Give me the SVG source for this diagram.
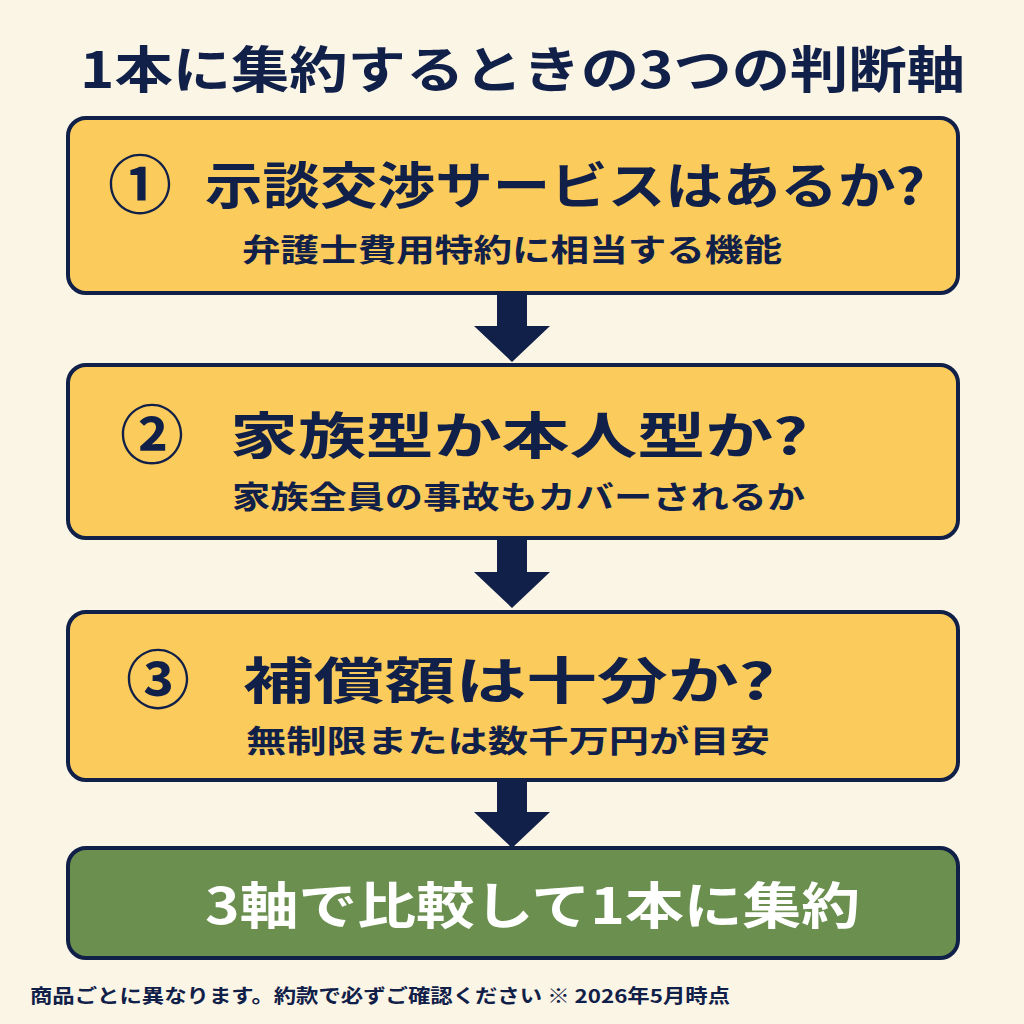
<svg xmlns="http://www.w3.org/2000/svg" width="1024" height="1024" viewBox="0 0 1024 1024">
<style>
text{font-family:"Noto Sans CJK JP","Noto Sans",sans-serif;font-weight:bold;fill:#102048}
.box{fill:#FBCB5C;stroke:#102048;stroke-width:4}
.fin{fill:#6A8F4E;stroke:#102048;stroke-width:4}
.h{font-size:50px}
.c{font-size:64px}
.s{font-size:31px}
.arr{fill:#102048}
</style>
<rect width="1024" height="1024" fill="#FBF5E6"/>
<text x="80" y="88" font-size="50" textLength="885" lengthAdjust="spacingAndGlyphs">1本に集約するときの3つの判断軸</text>
<g id="connectors">
<path class="arr" d="M497 294h30v32h23l-38 36l-38-36h23z"/>
<path class="arr" d="M497 540h30v32h23l-38 36l-38-36h23z"/>
<path class="arr" d="M497 782h30v30h23l-38 36l-38-36h23z"/>
</g>
<g id="n1">
<rect class="box" x="68" y="118" width="890" height="175" rx="18"/>
<text class="c" x="108" y="208">①</text>
<text class="h" x="205" y="204" textLength="720" lengthAdjust="spacingAndGlyphs">示談交渉サービスはあるか?</text>
<text class="s" x="512" y="261" text-anchor="middle" textLength="540" lengthAdjust="spacingAndGlyphs">弁護士費用特約に相当する機能</text>
</g>
<g id="n2">
<rect class="box" x="68" y="365" width="890" height="173" rx="18"/>
<text class="c" x="120" y="458">②</text>
<text class="h" x="230" y="454" textLength="578" lengthAdjust="spacingAndGlyphs">家族型か本人型か?</text>
<text class="s" x="232" y="508" textLength="573" lengthAdjust="spacingAndGlyphs">家族全員の事故もカバーされるか</text>
</g>
<g id="n3">
<rect class="box" x="68" y="612" width="890" height="168" rx="18"/>
<text class="c" x="126" y="703">③</text>
<text class="h" x="243" y="699" textLength="532" lengthAdjust="spacingAndGlyphs">補償額は十分か?</text>
<text class="s" x="246" y="752" textLength="524" lengthAdjust="spacingAndGlyphs">無制限または数千万円が目安</text>
</g>
<g id="n4">
<rect class="fin" x="68" y="848" width="890" height="110" rx="18"/>
<text x="205" y="924" font-size="50" textLength="655" lengthAdjust="spacingAndGlyphs" style="fill:#fff">3軸で比較して1本に集約</text>
</g>
<text x="30" y="1003" font-size="19" textLength="700" lengthAdjust="spacingAndGlyphs">商品ごとに異なります。約款で必ずご確認ください  ※ 2026年5月時点</text>
</svg>
